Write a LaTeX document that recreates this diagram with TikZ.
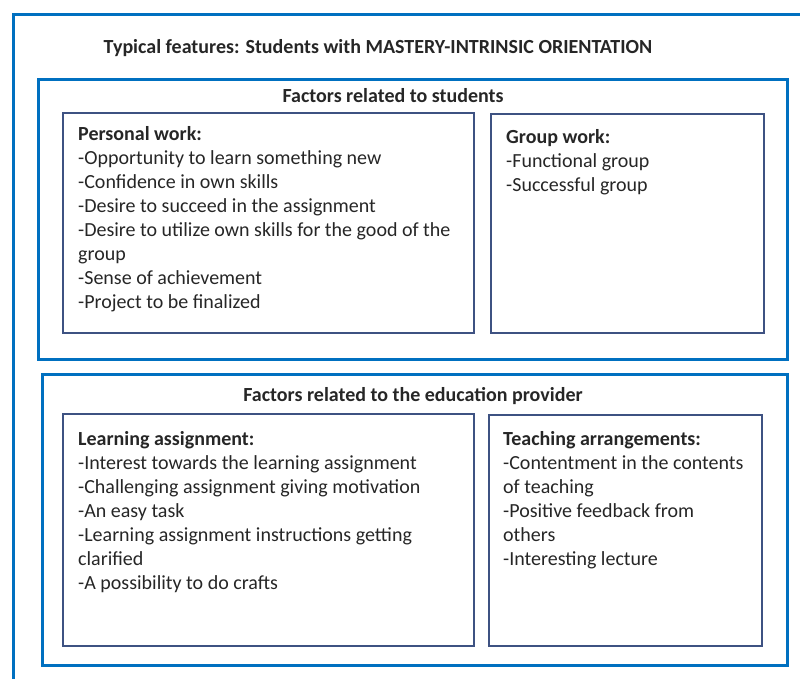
\documentclass[tikz,border=0pt]{standalone}
\usepackage{fontspec}
\setmainfont{Carlito}
\usetikzlibrary{positioning}
\definecolor{frameblue}{RGB}{0,112,192}
\definecolor{boxslate}{RGB}{62,82,130}
\definecolor{textgray}{RGB}{38,38,38}

\begin{document}
\begin{tikzpicture}[
  x=1pt, y=-1pt,
  panel/.style={
    rectangle, draw=frameblue, line width=3pt, anchor=north west, inner sep=0pt
  },
  itembox/.style={
    rectangle, draw=boxslate, line width=1.6pt, anchor=north west, inner sep=0pt
  },
  head/.style={font=\bfseries\fontsize{20}{24}\selectfont, text=textgray, inner sep=0pt},
  list/.style={
    anchor=north west, align=left, inner sep=0pt,
    font=\fontsize{20}{24}\selectfont, text=textgray
  }
]
\useasboundingbox (0,0) rectangle (800,678);
\begin{scope}
\clip (0,0) rectangle (800,678);

% outer frame, cut at the right and bottom
\node[panel, minimum width=800pt, minimum height=690pt] (frame) at (12,13) {};
\node[head] (title) at (378,48) {Typical features: Students with MASTERY-INTRINSIC ORIENTATION};

% students
\node[panel, minimum width=749pt, minimum height=280pt] (students) at (37,78) {};
\node[head] (studtitle) at (393,96) {Factors related to students};

\node[itembox, minimum width=411pt, minimum height=220pt] (personal) at (62,112) {};
\node[list] (personaltext) at (78,126) {\textbf{Personal work:}\\
-Opportunity to learn something new\\
-Confidence in own skills\\
-Desire to succeed in the assignment\\
-Desire to utilize own skills for the good of the\\
group\\
-Sense of achievement\\
-Project to be finalized};

\node[itembox, minimum width=273pt, minimum height=219pt] (group) at (490,113) {};
\node[list] (grouptext) at (506,129) {\textbf{Group work:}\\
-Functional group\\
-Successful group};

% education provider
\node[panel, minimum width=745pt, minimum height=291pt] (provider) at (41,373) {};
\node[head] (provtitle) at (413,396) {Factors related to the education provider};

\node[itembox, minimum width=411pt, minimum height=232pt] (learning) at (62,413) {};
\node[list] (learningtext) at (78,431) {\textbf{Learning assignment:}\\
-Interest towards the learning assignment\\
-Challenging assignment giving motivation\\
-An easy task\\
-Learning assignment instructions getting\\
clarified\\
-A possibility to do crafts};

\node[itembox, minimum width=273pt, minimum height=231pt] (teaching) at (488,414) {};
\node[list] (teachingtext) at (503,431) {\textbf{Teaching arrangements:}\\
-Contentment in the contents\\
of teaching\\
-Positive feedback from\\
others\\
-Interesting lecture};
\end{scope}

\end{tikzpicture}
\end{document}
